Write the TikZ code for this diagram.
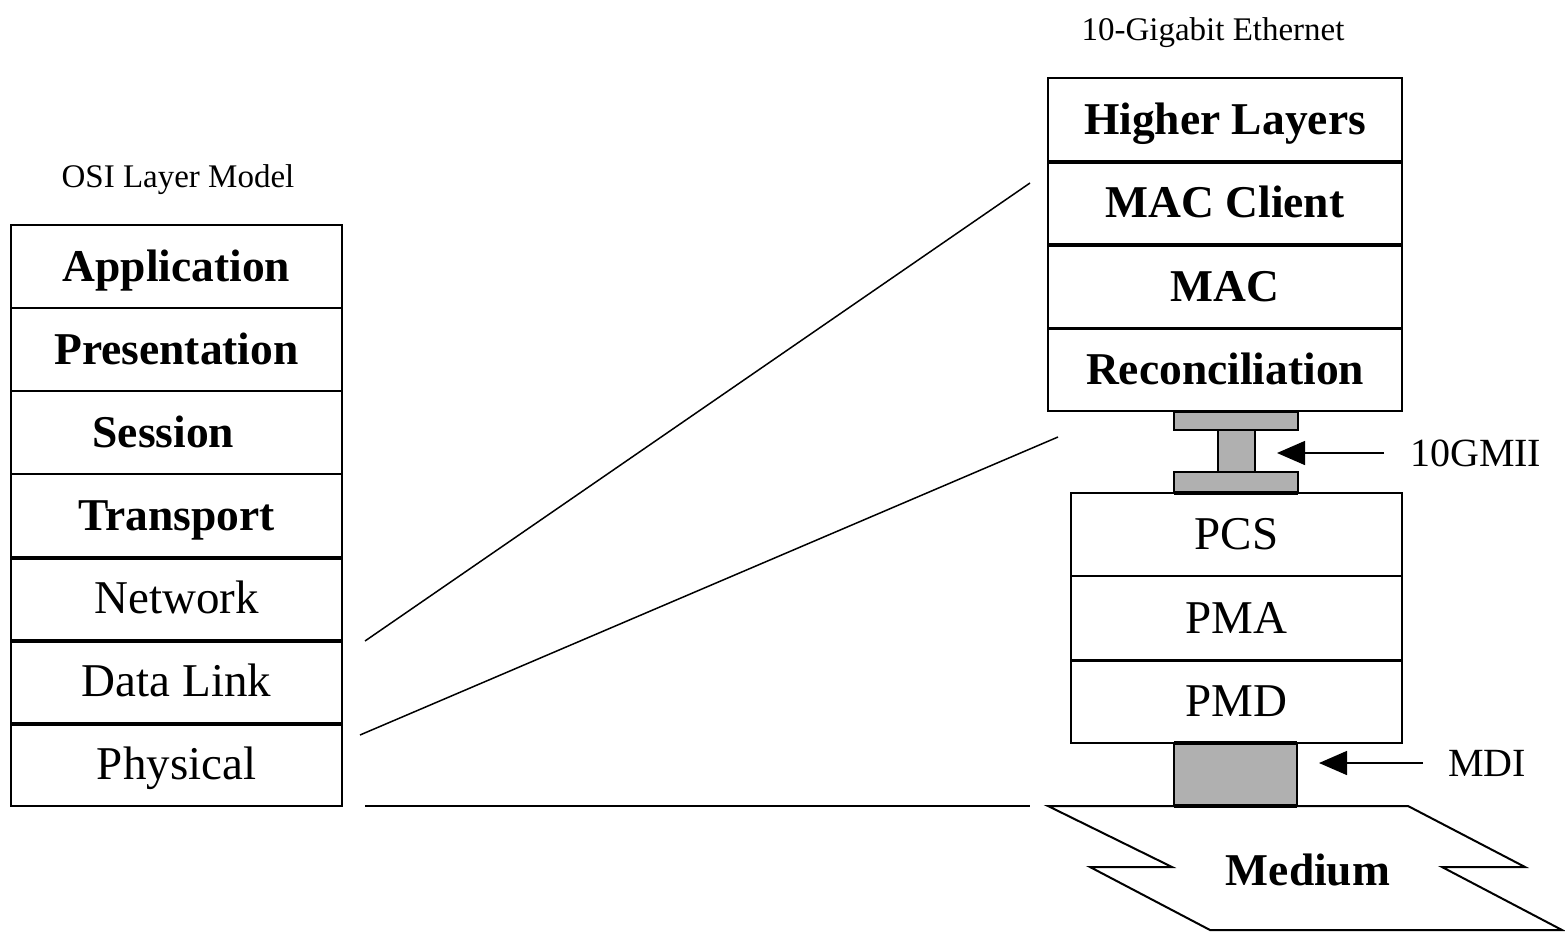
\documentclass[tikz,border=0pt]{standalone}
\usepackage{fontspec}
\setmainfont{Liberation Serif}
\usetikzlibrary{arrows.meta}
\begin{document}
\begin{tikzpicture}[x=1pt,y=-1pt,
  cell/.style={draw, line width=2pt, inner sep=0pt, text height=30pt, text depth=0pt},
  osicell/.style={cell, minimum width=331pt, minimum height=83pt},
  hicell/.style={cell, minimum width=354pt, minimum height=83.25pt},
  locell/.style={cell, minimum width=331pt, minimum height=83.3pt},
  boldtxt/.style={font=\fontsize{45.5}{50}\selectfont\bfseries},
  plaintxt/.style={font=\fontsize{47}{52}\selectfont},
  title/.style={font=\fontsize{33}{38}\selectfont, inner sep=0pt, text height=22pt, text depth=0pt},
  tag/.style={font=\fontsize{40}{44}\selectfont, inner sep=0pt, text height=26.5pt, text depth=0pt, anchor=west},
  plate/.style={draw, line width=2pt, fill=black!31},
  seam/.style={line width=3.5pt},
  link/.style={line width=1.5pt},
  pointer/.style={line width=1.5pt, -{Triangle[length=28pt, width=24pt]}}
]
\useasboundingbox (0,0) rectangle (1565,931);

% ---- OSI layer stack ----
\node[title] (osititle) at (178,176) {OSI Layer Model};
\node[osicell, boldtxt]  (app)  at (176.5,266.5) {Application};
\node[osicell, boldtxt]  (pres) at (176.5,349.5) {Presentation};
\node[osicell, boldtxt]  (sess) at (176.5,432.5) {Session\kern26pt};
\node[osicell, boldtxt]  (trans) at (176.5,515.5) {Transport};
\node[osicell, plaintxt] (net)  at (176.5,598.5) {Network};
\node[osicell, plaintxt] (dl)   at (176.5,681.5) {Data Link};
\node[osicell, plaintxt] (phy)  at (176.5,764.5) {Physical};
\draw[seam] (trans.south west) -- (trans.south east);
\draw[seam] (net.south west) -- (net.south east);
\draw[seam] (dl.south west) -- (dl.south east);

% ---- 10-Gigabit Ethernet stack ----
\node[title] (gbetitle) at (1213,30) {10-Gigabit Ethernet};
\node[hicell, boldtxt] (higher) at (1225,119.6) {Higher Layers};
\node[hicell, boldtxt] (macc)   at (1225,202.9) {MAC Client};
\node[hicell, boldtxt] (mac)    at (1225,286.1) {MAC};
\node[hicell, boldtxt] (recon)  at (1225,369.4) {Reconciliation};
\draw[seam] (higher.south west) -- (higher.south east);
\draw[seam] (macc.south west) -- (macc.south east);
\draw[line width=3pt] (mac.south west) -- (mac.south east);

% 10GMII connector
\draw[plate] (1174,412) rectangle (1298,430);
\draw[plate] (1218,430) rectangle (1255,472);
\draw[plate] (1174,472) rectangle (1298,493);
\coordinate (post) at (1255,453);

\node[locell, plaintxt] (pcs) at (1236.5,534.7) {PCS};
\node[locell, plaintxt] (pma) at (1236.5,618.0) {PMA};
\node[locell, plaintxt] (pmd) at (1236.5,701.3) {PMD};
\draw[seam] (pma.south west) -- (pma.south east);
\draw[line width=3.5pt] (1174,493) -- (1298,493);

% MDI block
\draw[plate] (1174,743) rectangle (1297,806);
\draw[line width=3.5pt] (1174,743) -- (1297,743) (1174,806) -- (1297,806);
\coordinate (mdiedge) at (1297,763);

% Medium
\draw[line width=2pt, line join=miter]
  (1048,806) -- (1408,806) -- (1525,867) -- (1442,867) -- (1562,930)
  -- (1210,930) -- (1090,867) -- (1172,867) -- cycle;
\node[boldtxt, inner sep=0pt, text height=30pt, text depth=0pt] (medium) at (1308,870) {Medium};

% interface labels and pointers
\node[tag] (gmii) at (1410,453) {10GMII};
\draw[pointer] ([xshift=-26pt]gmii.west) -- ([xshift=22pt]post);
\node[tag] (mdi) at (1448,763) {MDI};
\draw[pointer] ([xshift=-25pt]mdi.west) -- ([xshift=22pt]mdiedge);

% mapping lines between the two models
\coordinate (m1a) at (365,641);
\coordinate (m1b) at (1030,183);
\coordinate (m2a) at (360,735);
\coordinate (m2b) at (1058,437);
\coordinate (m3a) at (365,806);
\coordinate (m3b) at (1030,806);
\draw[link] (m1a) -- (m1b);
\draw[link] (m2a) -- (m2b);
\draw[link] (m3a) -- (m3b);
\end{tikzpicture}
\end{document}
